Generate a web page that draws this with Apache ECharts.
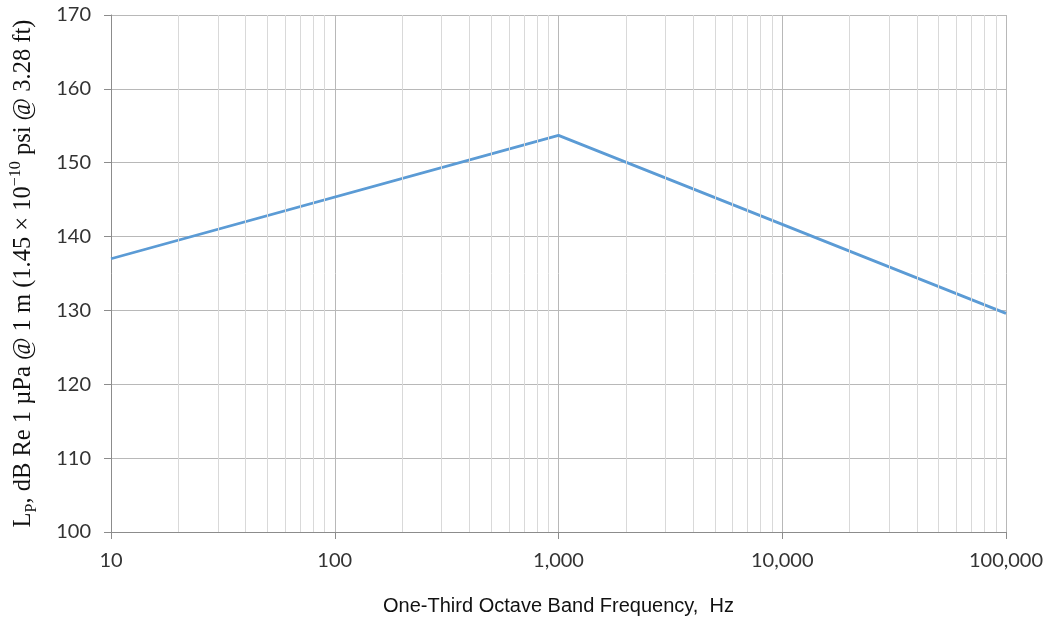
<!DOCTYPE html>
<html><head><meta charset="utf-8">
<script src="https://cdn.jsdelivr.net/npm/echarts@6/dist/echarts.min.js"></script>
<style>html,body{margin:0;padding:0;background:#fff}#c{width:1051px;height:621px}</style>
</head><body><div id="c"></div>
<script>
const frequencies = [10, 1000, 100000];
const levels = [137.0, 153.7, 129.6];
const minorGridFreqs = [20,30,40,50,60,70,80,90,200,300,400,500,600,700,800,900,2000,3000,4000,5000,6000,7000,8000,9000,20000,30000,40000,50000,60000,70000,80000,90000];
const yMin = 100, yMax = 170, yStep = 10;

const chart = echarts.init(document.getElementById('c'));
chart.setOption({
  animation: false,
  grid: {left: 111, right: 45, top: 15, bottom: 88},
  xAxis: {
    type: 'log', min: 10, max: 100000, logBase: 10,
    name: 'One-Third Octave Band Frequency,  Hz',
    nameLocation: 'middle', nameGap: 64,
    nameTextStyle: {fontFamily: 'Liberation Sans', fontSize: 20, color: '#111'},
    axisLine: {show: true, lineStyle: {color: '#8c8c8c', width: 1}},
    axisTick: {show: true, length: 7, lineStyle: {color: '#8c8c8c'}},
    axisLabel: {fontFamily: 'Lato', fontSize: 20, color: '#333', margin: 19,
      formatter: v => Math.round(v).toString().replace(/\B(?=(\d{3})+(?!\d))/g, ',')},
    splitLine: {show: true, lineStyle: {color: '#b8b8b8', width: 1}},
    minorTick: {show: false}, minorSplitLine: {show: false}
  },
  yAxis: {
    type: 'value', min: yMin, max: yMax, interval: yStep,
    name: '{n|L}{sub|P}{n|, dB Re 1 µPa @ 1 m (1.45 × 10}{sup|−10}{n| psi @ 3.28 ft)}',
    nameLocation: 'middle', nameGap: 71, nameRotate: 90,
    nameTextStyle: {
      rich: {
        n: {fontFamily: 'Liberation Serif', fontSize: 24.5, color: '#111', lineHeight: 32, verticalAlign: 'middle'},
        sub: {fontFamily: 'Liberation Serif', fontSize: 16, color: '#111', lineHeight: 32, verticalAlign: 'bottom'},
        sup: {fontFamily: 'Liberation Serif', fontSize: 16, color: '#111', lineHeight: 32, verticalAlign: 'top'}
      }
    },
    axisLine: {show: true, lineStyle: {color: '#8c8c8c', width: 1}},
    axisTick: {show: true, length: 7, lineStyle: {color: '#8c8c8c'}},
    axisLabel: {fontFamily: 'Lato', fontSize: 20, color: '#333', margin: 20},
    splitLine: {show: true, lineStyle: {color: '#b8b8b8', width: 1}}
  },
  series: [
    {
      type: 'line', data: [], z: 1, silent: true,
      markLine: {
        silent: true, symbol: ['none', 'none'], label: {show: false},
        lineStyle: {color: '#d9d9d9', width: 1, type: 'solid'},
        data: minorGridFreqs.map(f => ({xAxis: f}))
      }
    },
    {
      type: 'line', z: 3,
      data: frequencies.map((f, i) => [f, levels[i]]),
      symbol: 'none',
      lineStyle: {color: '#5b9bd5', width: 2.8}
    }
  ]
});
</script></body></html>
